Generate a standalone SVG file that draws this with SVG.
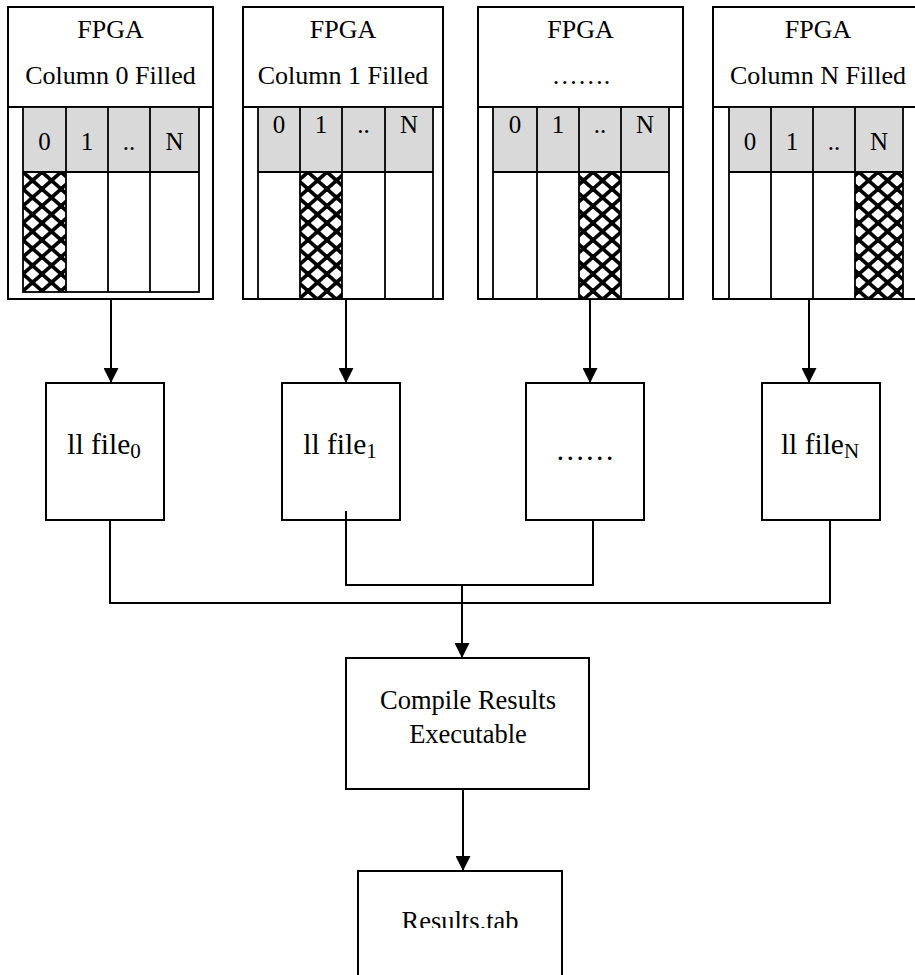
<svg xmlns="http://www.w3.org/2000/svg" width="915" height="975" viewBox="0 0 915 975">
<style>
.box{fill:#fff;stroke:#000;stroke-width:2}
.hdr{fill:#d9d9d9;stroke:none}
.ln{stroke:#000;stroke-width:2;fill:none}
.tl{stroke:#000;stroke-width:1.8;fill:none}
.t{font-family:"Liberation Serif","Times New Roman",serif;fill:#000;text-anchor:middle}
.h{font-size:26px}
.d{font-size:25px}
.f{font-size:29.5px}
.s{font-size:21px}
.c{font-size:26.5px}
.con{stroke:#000;stroke-width:2;fill:none}
</style>
<defs>
<pattern id="hatch" patternUnits="userSpaceOnUse" x="4" y="172" width="19" height="17">
<rect width="19" height="17" fill="#fff"/>
<path d="M-1.9,-1.7 L20.9,18.7 M20.9,-1.7 L-1.9,18.7" stroke="#000" stroke-width="3.6"/>
<circle cx="0" cy="0" r="2.8" fill="#000"/>
<circle cx="19" cy="0" r="2.8" fill="#000"/>
<circle cx="0" cy="17" r="2.8" fill="#000"/>
<circle cx="19" cy="17" r="2.8" fill="#000"/>
<circle cx="9.5" cy="8.5" r="2.8" fill="#000"/>
</pattern>
<marker id="arr" viewBox="0 0 10 10" refX="10" refY="5" markerUnits="userSpaceOnUse" markerWidth="15" markerHeight="15" orient="auto">
<path d="M0,0 L10,5 L0,10 z" fill="#000"/>
</marker>
<clipPath id="resclip"><rect x="0" y="0" width="915" height="928"/></clipPath>
</defs>
<rect width="915" height="975" fill="#fff"/>

<g id="fpga0">
<rect class="box" x="8" y="7" width="205" height="292"/>
<line class="ln" x1="8" y1="107" x2="213" y2="107"/>
<rect class="hdr" x="23" y="107" width="176" height="65"/>
<rect x="23" y="172" width="43" height="120" fill="url(#hatch)"/>
<rect class="tl" x="23" y="107" width="176" height="185"/>
<path class="tl" d="M66,107V292M108,107V292M150,107V292M23,172H199"/>
<text class="t h" x="110.5" y="38">FPGA</text>
<text class="t h" x="110.5" y="84">Column 0 Filled</text>
<text class="t d" x="44.5" y="150">0</text>
<text class="t d" x="87" y="150">1</text>
<text class="t d" x="129" y="150">..</text>
<text class="t d" x="174.5" y="150">N</text>
</g>

<g id="fpga1">
<rect class="box" x="243" y="7" width="200" height="292"/>
<line class="ln" x1="243" y1="107" x2="443" y2="107"/>
<rect class="hdr" x="258" y="107" width="175" height="65"/>
<rect x="300" y="172" width="42" height="127" fill="url(#hatch)"/>
<rect class="tl" x="258" y="107" width="175" height="192"/>
<path class="tl" d="M300,107V299M342,107V299M385,107V299M258,172H433"/>
<text class="t h" x="343" y="38">FPGA</text>
<text class="t h" x="343" y="84">Column 1 Filled</text>
<text class="t d" x="279" y="133">0</text>
<text class="t d" x="321" y="133">1</text>
<text class="t d" x="363.5" y="133">..</text>
<text class="t d" x="409" y="133">N</text>
</g>

<g id="fpga2">
<rect class="box" x="478" y="7" width="205" height="292"/>
<line class="ln" x1="478" y1="107" x2="683" y2="107"/>
<rect class="hdr" x="493" y="107" width="176" height="65"/>
<rect x="579" y="172" width="42" height="127" fill="url(#hatch)"/>
<rect class="tl" x="493" y="107" width="176" height="192"/>
<path class="tl" d="M537,107V299M579,107V299M621,107V299M493,172H669"/>
<text class="t h" x="580.5" y="38">FPGA</text>
<text class="t h" x="581" y="84">…….</text>
<text class="t d" x="515" y="133">0</text>
<text class="t d" x="558" y="133">1</text>
<text class="t d" x="600" y="133">..</text>
<text class="t d" x="645" y="133">N</text>
</g>

<g id="fpgaN">
<rect class="box" x="713" y="7" width="210" height="292"/>
<line class="ln" x1="713" y1="107" x2="923" y2="107"/>
<rect class="hdr" x="729" y="107" width="174" height="65"/>
<rect x="855" y="172" width="48" height="127" fill="url(#hatch)"/>
<rect class="tl" x="729" y="107" width="174" height="192"/>
<path class="tl" d="M771,107V299M813,107V299M855,107V299M729,172H903"/>
<text class="t h" x="818" y="38">FPGA</text>
<text class="t h" x="818" y="84">Column N Filled</text>
<text class="t d" x="750" y="150">0</text>
<text class="t d" x="792" y="150">1</text>
<text class="t d" x="834" y="150">..</text>
<text class="t d" x="879" y="150">N</text>
</g>

<g id="llfile0">
<rect class="box" x="46" y="383" width="118" height="137"/>
<text class="t f" x="104" y="454">ll file<tspan class="s" dy="4">0</tspan></text>
</g>
<g id="llfile1">
<rect class="box" x="282" y="383" width="118" height="137"/>
<text class="t f" x="340" y="454">ll file<tspan class="s" dy="4">1</tspan></text>
</g>
<g id="llfileDots">
<rect class="box" x="526" y="383" width="118" height="137"/>
<text class="t f" x="585" y="460">……</text>
</g>
<g id="llfileN">
<rect class="box" x="762" y="383" width="118" height="137"/>
<text class="t f" x="820" y="454">ll file<tspan class="s" dy="4">N</tspan></text>
</g>

<g id="compile">
<rect class="box" x="346" y="658" width="243" height="131"/>
<text class="t c" x="468" y="709">Compile Results</text>
<text class="t c" x="468" y="743">Executable</text>
</g>

<g id="results">
<rect class="box" x="358" y="871" width="204" height="120"/>
<text class="t c" x="460" y="930" clip-path="url(#resclip)">Results.tab</text>
</g>

<g id="connectors">
<line class="con" x1="111" y1="299" x2="111" y2="383" marker-end="url(#arr)"/>
<line class="con" x1="346" y1="299" x2="346" y2="383" marker-end="url(#arr)"/>
<line class="con" x1="590" y1="299" x2="590" y2="383" marker-end="url(#arr)"/>
<line class="con" x1="809" y1="299" x2="809" y2="383" marker-end="url(#arr)"/>
<polyline class="con" points="110,520 110,603 830,603 830,520"/>
<polyline class="con" points="346,511 346,585 593,585 593,520"/>
<line class="con" x1="462" y1="584" x2="462" y2="658" marker-end="url(#arr)"/>
<line class="con" x1="463" y1="789" x2="463" y2="871" marker-end="url(#arr)"/>
</g>
</svg>
